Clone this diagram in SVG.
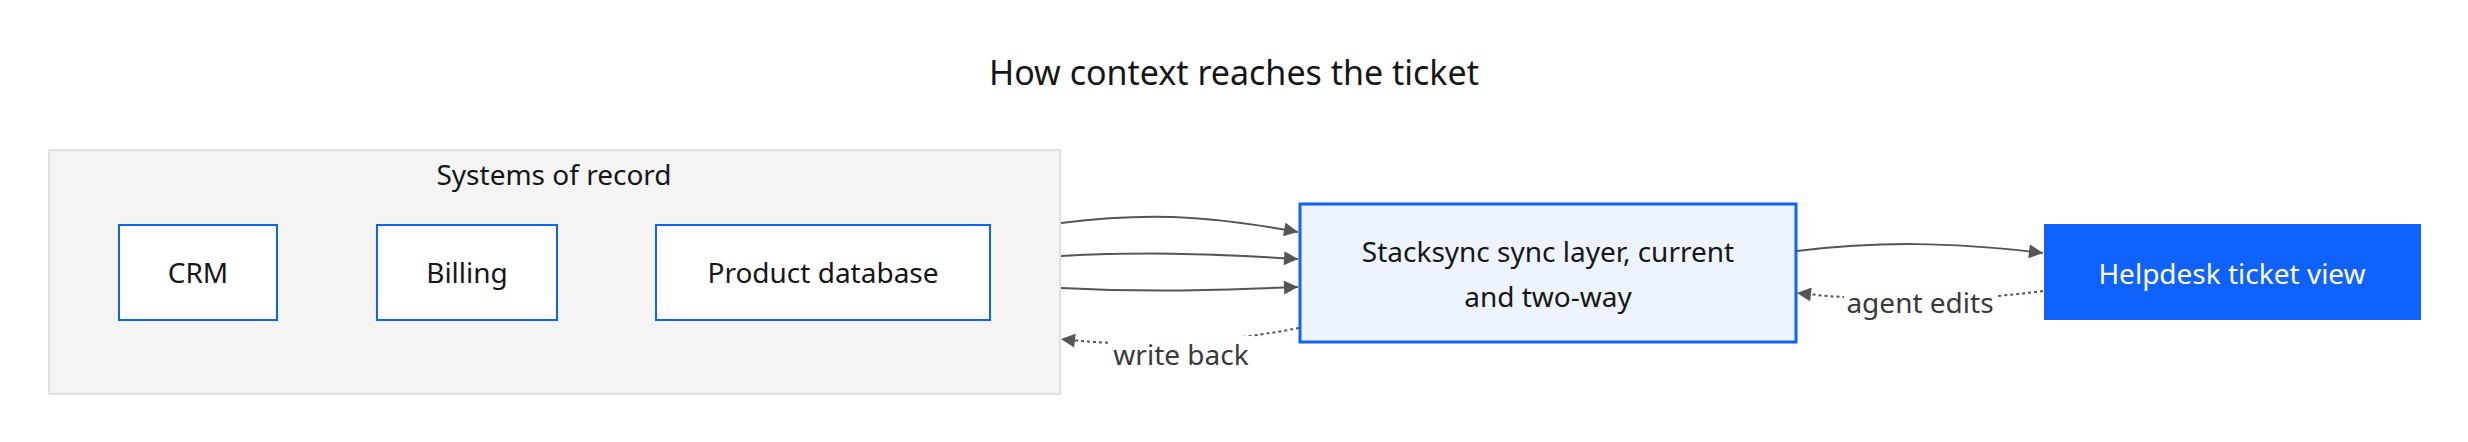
<svg xmlns="http://www.w3.org/2000/svg" width="2468" height="442" viewBox="0 0 2468 442">
<style>
  text { font-family: "Noto Sans", Roboto, sans-serif; fill: #161616; }
  .title { font-size: 34px; }
  .lbl { font-size: 28px; text-anchor: middle; }
  .elbl { font-size: 28px; text-anchor: middle; fill: #3a3a3a; }
  .node { fill: #ffffff; stroke: #0f62fe; stroke-width: 2; }
  .edge { fill: none; stroke: #555555; stroke-width: 2; }
  .dot { stroke-dasharray: 3 3; }
</style>
<defs>
  <marker id="arr" viewBox="0 0 10 10" refX="10" refY="5" markerWidth="15" markerHeight="14" markerUnits="userSpaceOnUse" orient="auto">
    <path d="M0,0 L10,5 L0,10 z" fill="#555555"/>
  </marker>
</defs>
<rect width="2468" height="442" fill="#ffffff"/>
<text class="title" x="1234" y="85" text-anchor="middle">How context reaches the ticket</text>

<g id="systems-of-record">
  <rect x="49" y="150" width="1011" height="244" fill="#f4f4f4" stroke="#e0e0e0" stroke-width="2"/>
  <text class="lbl" x="554" y="185">Systems of record</text>
</g>
<g id="crm">
  <rect class="node" x="119" y="225" width="158" height="95"/>
  <text class="lbl" x="198" y="283">CRM</text>
</g>
<g id="billing">
  <rect class="node" x="377" y="225" width="180" height="95"/>
  <text class="lbl" x="467" y="283">Billing</text>
</g>
<g id="product-database">
  <rect class="node" x="656" y="225" width="334" height="95"/>
  <text class="lbl" x="823" y="283">Product database</text>
</g>
<g id="stacksync">
  <rect x="1300" y="204" width="496" height="138" fill="#edf4ff" stroke="#0f62fe" stroke-width="3"/>
  <text class="lbl" x="1548" y="262">Stacksync sync layer, current</text>
  <text class="lbl" x="1548" y="307">and two-way</text>
</g>
<g id="helpdesk">
  <rect x="2044" y="224" width="377" height="96" fill="#0f62fe"/>
  <text class="lbl" x="2232" y="284" style="fill:#ffffff">Helpdesk ticket view</text>
</g>

<g id="connectors">
  <path class="edge" d="M1061,223 C1140,213 1200,214 1298,232" marker-end="url(#arr)"/>
  <path class="edge" d="M1061,256 C1140,252 1200,253 1298,259" marker-end="url(#arr)"/>
  <path class="edge" d="M1061,288 C1140,292 1200,291 1298,287" marker-end="url(#arr)"/>
  <path class="edge" d="M1797,251 C1880,241 1950,242 2043,253" marker-end="url(#arr)"/>
  <path class="edge dot" d="M2043,291 C1960,302 1880,302 1797,293" marker-end="url(#arr)"/>
  <path class="edge dot" d="M1299,328 C1220,343 1140,348 1061,339" marker-end="url(#arr)"/>
  <rect x="1108" y="336" width="144" height="36" fill="#ffffff"/>
  <text class="elbl" x="1181" y="365">write back</text>
  <rect x="1844" y="288" width="152" height="34" fill="#ffffff"/>
  <text class="elbl" x="1920" y="313">agent edits</text>
</g>
</svg>
